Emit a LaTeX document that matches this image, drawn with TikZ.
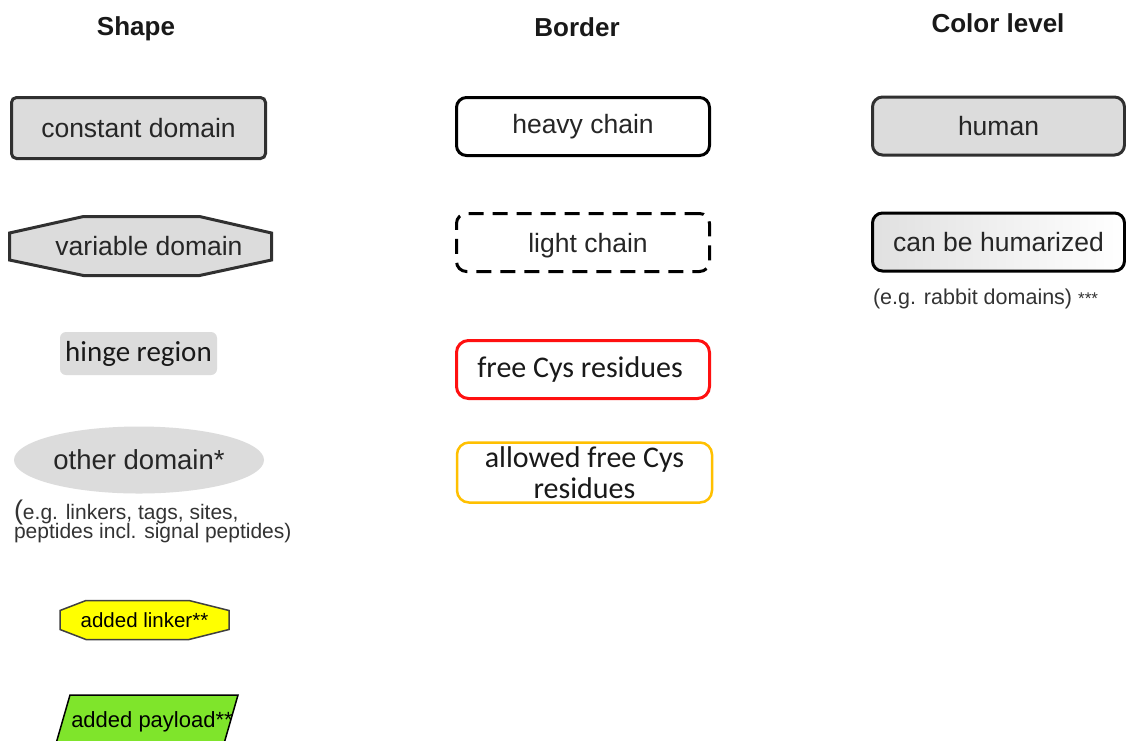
\documentclass[tikz,border=0pt]{standalone}
\usepackage{fontspec}
\setmainfont{Liberation Sans}
\newfontfamily\calfont{Carlito}
\usetikzlibrary{shapes.geometric,calc}
\definecolor{domgray}{HTML}{DCDCDC}
\definecolor{edgegray}{HTML}{303030}
\definecolor{cysred}{HTML}{FF1010}
\definecolor{cysorange}{HTML}{FFC000}
\definecolor{linkeryellow}{HTML}{FFFF00}
\definecolor{payloadgreen}{HTML}{7FE52B}
\pgfdeclarelayer{paper}
\pgfdeclarelayer{outlines}
\pgfsetlayers{paper,outlines,main}
\begin{document}
\begin{tikzpicture}[x=1pt,y=-1pt,
  every node/.style={inner sep=0pt, outer sep=0pt},
  header/.style={font=\fontsize{26}{30}\selectfont\bfseries, text=black!90},
  lbl/.style={font=\fontsize{26.5}{30}\selectfont, text=black!85},
  callbl/.style={font=\calfont\fontsize{30}{30}\selectfont, text=black!90},
  smalllbl/.style={font=\fontsize{21}{18}\selectfont, text=black!80},
  legendbox/.style={rectangle, rounded corners=10pt, minimum width=253pt,
    minimum height=58pt, line width=3pt, fill=white},
  graybox/.style={legendbox, draw=edgegray, fill=domgray},
  octoutline/.style={fill=domgray, draw=edgegray, line width=3pt, line join=miter}
]
\useasboundingbox (0,0) rectangle (1126,740);
\clip (0,0) rectangle (1126,740);
\begin{pgfonlayer}{paper}
  \fill[white] (0,0) rectangle (1126,740);
\end{pgfonlayer}

% column headers
\node[header, anchor=base] (hshape)  at (136,35) {Shape};
\node[header, anchor=base] (hborder) at (577,36) {Border};
\node[header, anchor=base] (hcolor)  at (998,32) {Color level};

% ---- Shape column ----
\node[graybox, rounded corners=5pt, minimum width=254pt, minimum height=61pt, lbl]
  (const) at (138.5,128) {constant domain};

% octagonal variable domain: text node, outline drawn from its corners
\node[rectangle, minimum width=262pt, minimum height=59pt, lbl]
  (var) at (140.5,246) {\hspace*{17pt}variable domain};
\begin{pgfonlayer}{outlines}
  \draw[octoutline]
    ($(var.north west)+(74,0)$) -- ($(var.north east)+(-72,0)$)
    -- ($(var.north east)+(0,16.5)$) -- ($(var.south east)+(0,-15.5)$)
    -- ($(var.south east)+(-72,0)$) -- ($(var.south west)+(74,0)$)
    -- ($(var.south west)+(0,-15.5)$) -- ($(var.north west)+(0,16.5)$) -- cycle;
\end{pgfonlayer}

\node[rectangle, rounded corners=6pt, fill=domgray, minimum width=157pt,
  minimum height=43pt, font=\calfont\fontsize{29}{30}\selectfont, text=black!90]
  (hinge) at (138.5,353.5) {hinge region};

\node[ellipse, fill=domgray, minimum width=250pt, minimum height=67pt,
  font=\fontsize{27.5}{30}\selectfont, text=black!85]
  (other) at (139,460) {other domain*};

\node[smalllbl, anchor=north west, align=left] (note) at (14,499.5)
  {{\fontsize{27}{18}\selectfont(}e.g. linkers, tags, sites,\\[-2pt]
   peptides incl. signal peptides)};

% yellow linker octagon
\node[rectangle, minimum width=169pt, minimum height=39pt,
  font=\fontsize{20.5}{24}\selectfont, text=black]
  (linker) at (144.5,620) {added linker**};
\begin{pgfonlayer}{outlines}
  \draw[fill=linkeryellow, draw=black!75, line width=1.5pt]
    ($(linker.north west)+(26,0)$) -- ($(linker.north east)+(-40,0)$)
    -- ($(linker.north east)+(0,10)$) -- ($(linker.south east)+(0,-10)$)
    -- ($(linker.south east)+(-40,0)$) -- ($(linker.south west)+(26,0)$)
    -- ($(linker.south west)+(0,-10)$) -- ($(linker.north west)+(0,10)$) -- cycle;
\end{pgfonlayer}

% slanted payload box running off the lower edge
\node[font=\fontsize{22}{24}\selectfont, text=black, anchor=base]
  (payload) at (152,727) {added payload**};
\begin{pgfonlayer}{outlines}
  \coordinate (pTL) at (70,695);
  \coordinate (pTR) at (238,695);
  \coordinate (pBR) at (223.6,745);
  \coordinate (pBL) at (55.6,745);
  \filldraw[fill=payloadgreen, draw=black, line width=1.5pt]
    (pTL) -- (pTR) -- (pBR) -- (pBL) -- cycle;
\end{pgfonlayer}

% ---- Border column ----
\node[legendbox, draw=black, lbl] (heavy) at (583,126.5) {heavy chain};
\node[legendbox, draw=black, dash pattern=on 15pt off 9pt, lbl, text depth=0pt]
  (light) at (583,242.5) {\hspace*{10pt}light chain};
\node[legendbox, draw=cysred, rounded corners=12pt, callbl]
  (freecys) at (583,369.5) {free Cys residues\hspace*{6pt}};
\node[legendbox, draw=cysorange, line width=2.5pt, minimum width=255pt,
  minimum height=60pt, rounded corners=12pt, callbl, align=center]
  (allowcys) at (584.5,472.5) {allowed free Cys\\[1pt]residues};

% ---- Color level column ----
\node[graybox, minimum width=252pt, lbl] (human) at (998.5,126) {human};
\node[legendbox, draw=black, minimum width=252pt, left color=black!12,
  right color=white, lbl] (humz) at (998.5,242) {can be humarized};
\node[font=\fontsize{21.5}{24}\selectfont, text=black!80, anchor=base west]
  (rabbit) at (873,304) {(e.g. rabbit domains) {\fontsize{17}{18}\selectfont ***}};
\end{tikzpicture}
\end{document}
